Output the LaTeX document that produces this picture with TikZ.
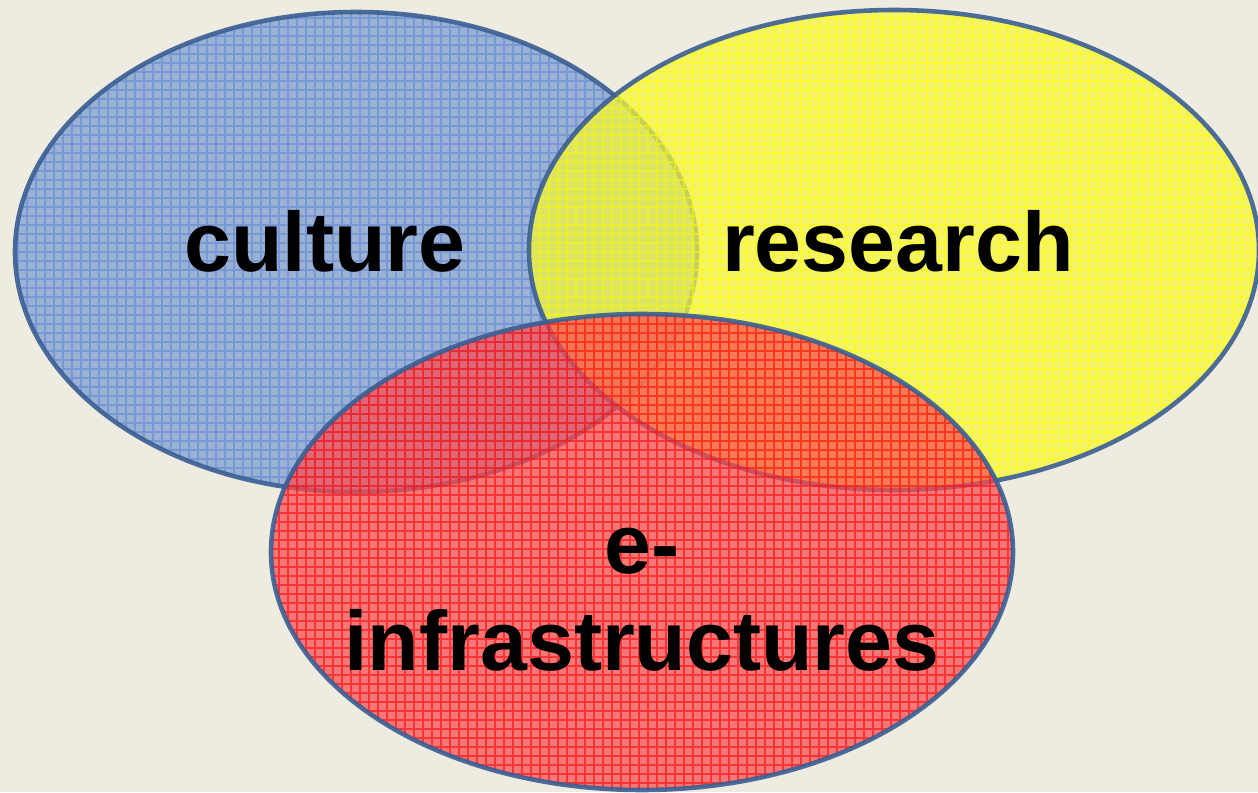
\documentclass[tikz,border=0pt]{standalone}
\usepackage{fontspec}
\setmainfont{Liberation Sans}
\usetikzlibrary{arrows}
\definecolor{bgbeige}{HTML}{EEEBE0}
\definecolor{vennedge}{HTML}{3A5F93}
\definecolor{cultfill}{HTML}{7B9BCF}
\definecolor{cultgrid}{HTML}{5B85D6}
\definecolor{resfill}{HTML}{F7F740}
\definecolor{resgrid}{HTML}{FFFF00}
\definecolor{infrafill}{HTML}{FB4A4E}
\definecolor{infragrid}{HTML}{FF0000}
\tikzset{
  vennset/.style={line width=2.6pt,draw=vennedge,fill opacity=0.72,draw opacity=0.9},
  venngrid/.style={path picture={\draw[#1,line width=0.6pt,draw opacity=0.55,step=9]
     (path picture bounding box.south west) grid (path picture bounding box.north east);}},
  vennlabel/.style={font=\bfseries\fontsize{48}{55}\selectfont,text=black,inner sep=0pt}
}
\begin{document}
\begin{tikzpicture}[line cap=round,line join=round,x=0.02cm,y=0.02cm]
\useasboundingbox (0,0) rectangle (1258,792);
\fill[bgbeige] (0,0) rectangle (1258,792);
%\clip (0,0) rectangle (1258,792);
\draw [vennset,fill=cultfill,venngrid=cultgrid] (356,540) ellipse [x radius=341,y radius=240];
\draw [vennset,fill=resfill,venngrid=resgrid] (894,542) ellipse [x radius=365,y radius=240];
\draw [vennset,fill=infrafill,venngrid=infragrid] (642,240) ellipse [x radius=371,y radius=238];
\node[vennlabel,anchor=base] (culture) at (325,520) {culture};
\node[vennlabel,anchor=base] (research) at (898,520) {research};
\node[vennlabel,align=center] (einfra) at (642,192) {e-\\infrastructures};
\end{tikzpicture}
\end{document}
